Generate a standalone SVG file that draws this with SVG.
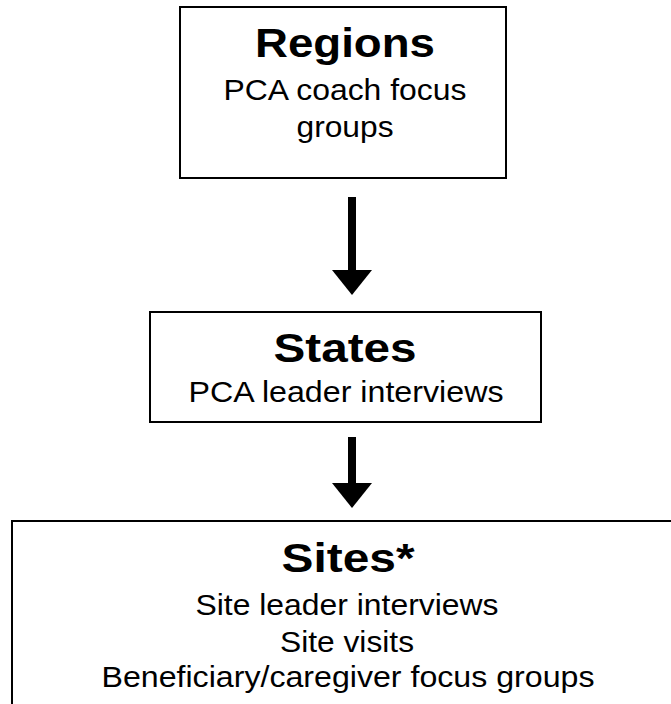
<svg xmlns="http://www.w3.org/2000/svg" width="671" height="704" viewBox="0 0 671 704">
<style>
  .box { fill: #ffffff; stroke: #000000; stroke-width: 2; }
  .title { font-family: "Liberation Sans", Arial, sans-serif; font-weight: bold; font-size: 41px; fill: #000; text-anchor: middle; }
  .body { font-family: "Liberation Sans", Arial, sans-serif; font-size: 30px; fill: #000; text-anchor: middle; }
  .conn { stroke: #000; stroke-width: 8; fill: none; }
</style>
<defs>
  <marker id="head" markerUnits="userSpaceOnUse" viewBox="0 -20 25 40" refX="0" refY="0" markerWidth="25" markerHeight="40" orient="auto">
    <path d="M0,-20 L25,0 L0,20 Z" fill="#000"/>
  </marker>
</defs>
<rect x="0" y="0" width="671" height="704" fill="#ffffff"/>
<g id="connectors">
  <line class="conn" x1="352" y1="197" x2="352" y2="270" marker-end="url(#head)"/>
  <line class="conn" x1="352" y1="437" x2="352" y2="483" marker-end="url(#head)"/>
</g>
<g id="regions">
  <rect class="box" x="180" y="7" width="326" height="171"/>
  <text class="title" x="345" y="57" textLength="180" lengthAdjust="spacingAndGlyphs">Regions</text>
  <text class="body" x="345" y="100" textLength="243" lengthAdjust="spacingAndGlyphs">PCA coach focus</text>
  <text class="body" x="345" y="137" textLength="97" lengthAdjust="spacingAndGlyphs">groups</text>
</g>
<g id="states">
  <rect class="box" x="150" y="312" width="391" height="110"/>
  <text class="title" x="345" y="362" textLength="143" lengthAdjust="spacingAndGlyphs">States</text>
  <text class="body" x="346" y="402" textLength="315" lengthAdjust="spacingAndGlyphs">PCA leader interviews</text>
</g>
<g id="sites">
  <rect class="box" x="12" y="521" width="700" height="300"/>
  <text class="title" x="348" y="572" font-size="42" textLength="133" lengthAdjust="spacingAndGlyphs">Sites*</text>
  <text class="body" x="347" y="615" textLength="303" lengthAdjust="spacingAndGlyphs">Site leader interviews</text>
  <text class="body" x="347" y="652" textLength="134" lengthAdjust="spacingAndGlyphs">Site visits</text>
  <text class="body" x="348" y="687" textLength="493" lengthAdjust="spacingAndGlyphs">Beneficiary/caregiver focus groups</text>
</g>
</svg>
